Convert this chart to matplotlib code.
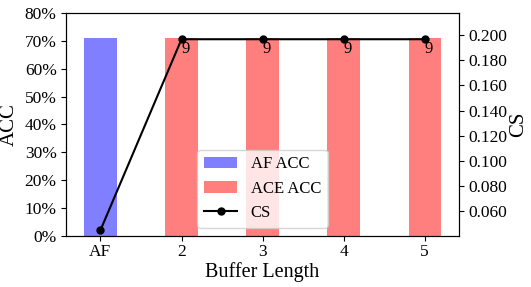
import matplotlib.pyplot as plt
import numpy as np
from matplotlib.ticker import PercentFormatter, FormatStrFormatter

plt.rcParams['font.family'] = ['Liberation Serif', 'DejaVu Serif']

labels = ['AF', '2', '3', '4', '5']
af_acc = [0.711]
ace_acc = [0.709, 0.709, 0.709, 0.709]
cs = [0.0449, 0.1966, 0.1966, 0.1966, 0.1966]
notes = ['', '9', '9', '9', '9']

x = np.arange(len(labels))

fig, ax = plt.subplots(figsize=(5.31, 2.87), dpi=100)
ax.bar(x[:1], af_acc, width=0.4, color='blue', alpha=0.5, label='AF ACC')
ax.bar(x[1:], ace_acc, width=0.4, color='red', alpha=0.5, label='ACE ACC')
ax.set_ylim(0, 0.8)
ax.set_yticks(np.arange(0, 0.81, 0.1))
ax.yaxis.set_major_formatter(PercentFormatter(1.0, decimals=0))
ax.set_xticks(x)
ax.set_xticklabels(labels)
ax.set_xlabel('Buffer Length', fontsize=14.5, labelpad=1)
ax.set_ylabel('ACC', fontsize=15)
ax.tick_params(labelsize=12.5)
ax.tick_params(axis='x', pad=2.5)

ax2 = ax.twinx()
line, = ax2.plot(x, cs, 'o-', color='black', markersize=5, label='CS')
for xi, yi, t in zip(x, cs, notes):
    if t:
        ax2.annotate(t, (xi, yi), xytext=(3, -7), textcoords='offset points',
                     ha='center', va='center', fontsize=12)
ax2.set_ylim(0.0404, 0.2175)
ax2.set_yticks(np.arange(0.06, 0.201, 0.02))
ax2.yaxis.set_major_formatter(FormatStrFormatter('%.3f'))
ax2.set_ylabel('CS', fontsize=15, labelpad=1)
ax2.tick_params(labelsize=12.5)

h1, l1 = ax.get_legend_handles_labels()
ax2.legend(h1 + [line], l1 + ['CS'], loc='lower center', fontsize=12)

plt.subplots_adjust(left=0.125, right=0.864, top=0.955, bottom=0.178)
fig.savefig('out.png', dpi=100)
